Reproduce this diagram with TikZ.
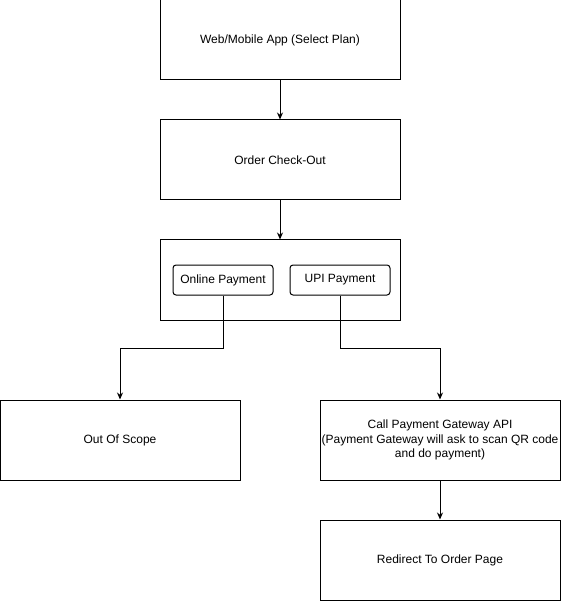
\documentclass[tikz,border=0pt]{standalone}
\usepackage{fontspec}
\setmainfont{Liberation Sans}
\usetikzlibrary{arrows.meta,positioning}

\begin{document}
\begin{tikzpicture}[x=1pt,y=-1pt,
  box/.style={rectangle,draw=black,line width=1pt,minimum width=240pt,minimum height=80pt,inner sep=0pt,align=center,font=\fontsize{12}{14.5}\selectfont},
  btn/.style={rectangle,draw=black,line width=1pt,rounded corners=3pt,minimum width=100pt,minimum height=30pt,inner sep=0pt,font=\fontsize{12}{14.5}\selectfont},
  arr/.style={line width=1pt,-{Stealth[length=7pt,width=6pt]}},
  lin/.style={line width=1pt}]
\useasboundingbox (0,0) rectangle (561,601);

\node[box] (web) at (280,40) {Web/Mobile App (Select Plan)};
\node[box] (order) at (280,160) {Order Check-Out};
\node[box] (pay) at (280,280) {};
\node[btn] (online) at (223,280) {Online Payment};
\node[btn] (upi) at (340,280) {UPI Payment};
\node[box] (out) at (120,440) {Out Of Scope};
\node[box] (gw) at (440,440) {Call Payment Gateway API\\(Payment Gateway will ask to scan QR code\\and do payment)};
\node[box] (redirect) at (440,560) {Redirect To Order Page};

\draw[arr] (web) -- (order);
\draw[arr] (order) -- (pay);
\draw[arr] (online.south) -- ++(0,53) -| (out.north);
\draw[arr] (upi.south) -- ++(0,53) -| (gw.north);
\draw[arr] (gw) -- (redirect);
\end{tikzpicture}
\end{document}
